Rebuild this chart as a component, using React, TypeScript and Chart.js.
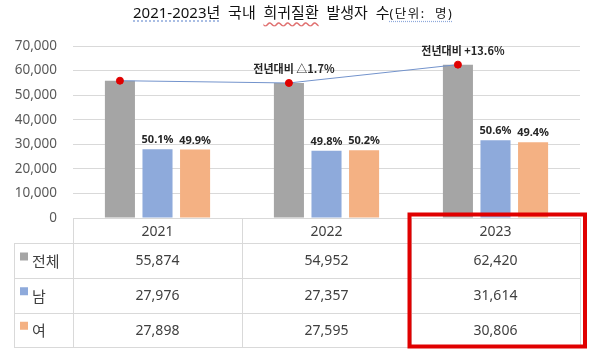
import React, { useEffect, useRef } from 'react';
import { Chart, registerables } from 'chart.js';

Chart.register(...registerables);

const years = ['2021', '2022', '2023'];
const seriesNames = ['전체', '남', '여'];
const totalValues = [55874, 54952, 62420];
const maleValues = [27976, 27357, 31614];
const femaleValues = [27898, 27595, 30806];
const malePct = ['50.1%', '49.8%', '50.6%'];
const femalePct = ['49.9%', '50.2%', '49.4%'];
const changeLabels = ['', '전년대비 △1.7%', '전년대비 +13.6%'];
const yMax = 70000;
const yStep = 10000;

const seriesColors = ['#a5a5a5', '#8eaadb', '#f4b183'];
const FONT = '"Noto Sans", "Noto Sans CJK KR", sans-serif';
const KFONT = '"Noto Sans CJK KR", "Noto Sans", sans-serif';
const CAT_PCT = 0.667;
const BAR_PCT = 0.8;

const extrasPlugin = {
  id: 'extras',
  afterDraw(chart: any) {
    const ctx = chart.ctx as CanvasRenderingContext2D;
    const { left, right, bottom } = chart.chartArea;
    const xs = chart.scales.x;
    const colW = (right - left) / years.length;
    const rowH = [25, 35, 34.5, 34.5];
    const rowY: number[] = [bottom];
    rowH.forEach((h) => rowY.push(rowY[rowY.length - 1] + h));
    const tableBottom = rowY[rowY.length - 1];
    const tableLeft = 14;

    ctx.save();
    // bar value labels
    ctx.font = `bold 11px ${FONT}`;
    ctx.fillStyle = '#262626';
    ctx.textAlign = 'center';
    ctx.textBaseline = 'middle';
    const mMeta = chart.getDatasetMeta(2);
    const fMeta = chart.getDatasetMeta(3);
    mMeta.data.forEach((el: any, i: number) => ctx.fillText(malePct[i], el.x, el.y - 9));
    fMeta.data.forEach((el: any, i: number) => ctx.fillText(femalePct[i], el.x, el.y - 9));
    const lMeta = chart.getDatasetMeta(0);
    ctx.font = `bold 11px ${KFONT}`;
    lMeta.data.forEach((el: any, i: number) => {
      if (changeLabels[i]) ctx.fillText(changeLabels[i], el.x + 5, el.y - 14);
    });

    // table grid
    ctx.strokeStyle = '#d9d9d9';
    ctx.lineWidth = 1;
    ctx.beginPath();
    for (let r = 1; r < rowY.length; r++) {
      const y = Math.round(rowY[r]) + 0.5;
      ctx.moveTo(tableLeft, y);
      ctx.lineTo(right, y);
    }
    for (let k = 0; k <= years.length; k++) {
      const x = Math.round(left + k * colW) + 0.5;
      ctx.moveTo(x, bottom);
      ctx.lineTo(x, tableBottom);
    }
    ctx.moveTo(tableLeft + 0.5, rowY[1]);
    ctx.lineTo(tableLeft + 0.5, tableBottom);
    ctx.stroke();

    // header + values
    ctx.fillStyle = '#404040';
    ctx.font = `14px ${FONT}`;
    ctx.textAlign = 'center';
    years.forEach((yr, i) => {
      ctx.fillText(yr, xs.getPixelForValue(i), (rowY[0] + rowY[1]) / 2 + 1.5);
    });
    const rows = [totalValues, maleValues, femaleValues];
    rows.forEach((vals, r) => {
      const mid = (rowY[r + 1] + rowY[r + 2]) / 2 + 1;
      vals.forEach((v, i) => {
        ctx.fillText(v.toLocaleString('en-US'), xs.getPixelForValue(i), mid);
      });
      ctx.fillStyle = seriesColors[r];
      ctx.fillRect(20, mid - 9, 8, 8);
      ctx.fillStyle = '#404040';
      ctx.textAlign = 'left';
      ctx.font = `15px ${KFONT}`;
      ctx.fillText(seriesNames[r], 32, mid);
      ctx.textAlign = 'center';
      ctx.font = `14px ${FONT}`;
    });

    // red highlight box around last year column
    const hx0 = left + (years.length - 1) * colW - 1.5;
    const hx1 = right + 5;
    const hy0 = bottom - 3.5;
    ctx.strokeStyle = '#e00000';
    ctx.lineWidth = 4;
    ctx.strokeRect(hx0, hy0, hx1 - hx0, tableBottom - 0.5 - hy0);
    ctx.restore();
  },
};

export default function App() {
  const ref = useRef<HTMLCanvasElement>(null);
  useEffect(() => {
    if (!ref.current) return;
    const grayOffset = -CAT_PCT / 3;
    const pts = (vals: number[], off = 0) => vals.map((v, i) => ({ x: i + off, y: v }));
    const barDs = (k: number, vals: number[]) => ({
      type: 'bar',
      label: seriesNames[k],
      data: pts(vals),
      backgroundColor: seriesColors[k],
      order: 1,
      barPercentage: BAR_PCT,
      categoryPercentage: CAT_PCT,
    });
    const chart = new Chart(ref.current, {
      type: 'bar',
      data: {
        datasets: [
          {
            type: 'line',
            label: '증감',
            data: pts(totalValues, grayOffset),
            borderColor: '#7393cc',
            borderWidth: 1,
            pointBackgroundColor: '#e00000',
            pointBorderColor: '#e00000',
            pointRadius: 3.5,
            tension: 0,
            order: 0,
          },
          barDs(0, totalValues),
          barDs(1, maleValues),
          barDs(2, femaleValues),
        ] as any,
      },
      options: {
        animation: false,
        responsive: false,
        layout: { padding: { top: 46, bottom: 137, left: 0, right: 20 } },
        plugins: { legend: { display: false }, tooltip: { enabled: false } },
        scales: {
          x: {
            type: 'linear',
            display: false,
            min: -0.5,
            max: years.length - 0.5,
            offset: false,
            afterBuildTicks: (s: any) => { s.ticks = years.map((_, i) => ({ value: i })); },
          },
          y: {
            min: 0,
            max: yMax,
            afterFit: (s: any) => { s.width = 73; },
            ticks: {
              stepSize: yStep,
              padding: 16,
              color: '#595959',
              font: { family: FONT, size: 13.5 },
              callback: (v: any) => Number(v).toLocaleString('en-US'),
            },
            grid: { color: '#d9d9d9', drawTicks: false },
            border: { display: false },
          },
        },
      },
      plugins: [extrasPlugin],
    });
    return () => chart.destroy();
  }, []);

  const ul = (c: string, s: string) => ({ textDecoration: `underline ${s} ${c}`, textUnderlineOffset: '3px' } as React.CSSProperties);
  return (
    <div style={{ position: 'fixed', left: 0, top: 0, width: 600, height: 355, background: '#fff' }}>
      <canvas ref={ref} width={600} height={355} style={{ position: 'absolute', left: 0, top: 0 }} />
      <div style={{ position: 'absolute', left: 133, top: 1, whiteSpace: 'pre', fontFamily: FONT, fontSize: 15, color: '#111' }}>
        <span style={ul('#8ea9db', 'dotted')}>2021-2023년</span>
        {'  국내  '}
        <span style={ul('#e07070', 'wavy')}>희귀질환</span>
        {'  발생자  수'}
        <span style={{ fontSize: 12.5, letterSpacing: 1.5, ...ul('#8ea9db', 'dotted') }}>{'(단위:  명)'}</span>
      </div>
    </div>
  );
}
